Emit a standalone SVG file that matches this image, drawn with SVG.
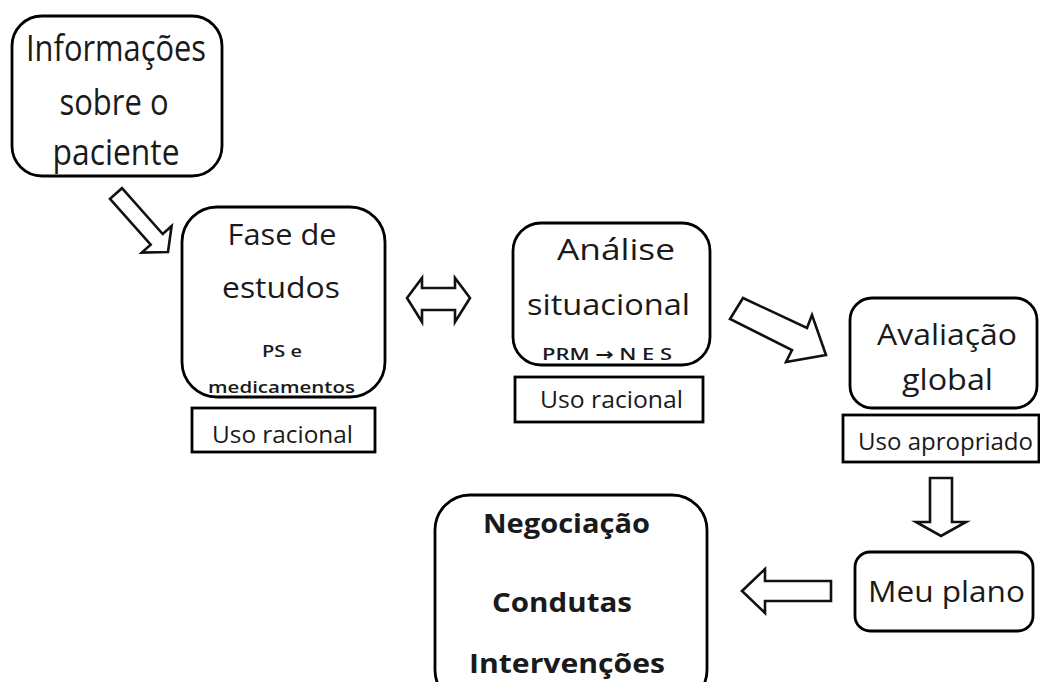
<svg xmlns="http://www.w3.org/2000/svg" width="1040" height="682" viewBox="0 0 1040 682">
<style>
.box{fill:#fff;stroke:#000;stroke-width:2.8}
.arr{fill:#fff;stroke:#111;stroke-width:2.6;stroke-linejoin:miter}
text{font-family:"Open Sans","Noto Sans","DejaVu Sans",sans-serif;fill:#1a1a1a;text-anchor:middle}
.t36{font-size:37px}
.t28{font-size:29px}
.t22{font-size:24px}
.sm{font-size:17px;font-weight:600}
.bd{font-size:27px;font-weight:700}
</style>
<rect width="1040" height="682" fill="#fff"/>
<g id="connectors">
<polygon class="arr" points="122,188.2 162.7,234 171.6,226 168,252 141.8,252.6 150.7,244.6 110,198.8"/>
<polygon class="arr" points="407,298 422,278 422,288 455,288 455,278 470,298 455,322 455,310 422,310 422,322"/>
<polygon class="arr" points="743,298 807,328 812,315 826,355 786,362 792,350 730,319"/>
<polygon class="arr" points="930,478 952,478 952,522 966,522 941,536 916,522 930,522"/>
<polygon class="arr" points="742,591 765,569 765,581 831,581 831,601 765,601 765,613"/>
</g>
<g id="n-informacoes">
<rect class="box" x="12" y="16" width="210" height="160" rx="30"/>
<text class="t36" x="116" y="61" textLength="180" lengthAdjust="spacingAndGlyphs">Informações</text>
<text class="t36" x="114" y="115" textLength="109" lengthAdjust="spacingAndGlyphs">sobre o</text>
<text class="t36" x="116" y="165" textLength="127" lengthAdjust="spacingAndGlyphs">paciente</text>
</g>
<g id="n-fase">
<rect class="box" x="182" y="207" width="203" height="190" rx="35"/>
<text class="t28" x="282" y="245" textLength="109" lengthAdjust="spacingAndGlyphs">Fase de</text>
<text class="t28" x="281" y="298" textLength="118" lengthAdjust="spacingAndGlyphs">estudos</text>
<text class="sm" x="282" y="357" textLength="40" lengthAdjust="spacingAndGlyphs">PS e</text>
<text class="sm" x="281.5" y="393" textLength="147" lengthAdjust="spacingAndGlyphs">medicamentos</text>
</g>
<g id="n-uso1">
<rect class="box" x="192" y="408" width="183" height="44"/>
<text class="t22" x="282.5" y="443" textLength="141" lengthAdjust="spacingAndGlyphs">Uso racional</text>
</g>
<g id="n-analise">
<rect class="box" x="513" y="223" width="197" height="142" rx="28"/>
<text class="t28" x="616" y="260" textLength="118" lengthAdjust="spacingAndGlyphs">Análise</text>
<text class="t28" x="608.5" y="315" textLength="163" lengthAdjust="spacingAndGlyphs">situacional</text>
<text class="sm" x="607" y="360" textLength="130" lengthAdjust="spacingAndGlyphs">PRM → N E S</text>
</g>
<g id="n-uso2">
<rect class="box" x="515" y="377" width="188" height="45"/>
<text class="t22" x="611.5" y="408" textLength="143" lengthAdjust="spacingAndGlyphs">Uso racional</text>
</g>
<g id="n-avaliacao">
<rect class="box" x="850" y="298" width="187" height="110" rx="22"/>
<text class="t28" x="947" y="345" textLength="140" lengthAdjust="spacingAndGlyphs">Avaliação</text>
<text class="t28" x="947.5" y="390" textLength="91" lengthAdjust="spacingAndGlyphs">global</text>
</g>
<g id="n-uso3">
<rect class="box" x="843" y="415" width="196" height="47"/>
<text class="t22" x="945.5" y="450" textLength="175" lengthAdjust="spacingAndGlyphs">Uso apropriado</text>
</g>
<g id="n-plano">
<rect class="box" x="855" y="552" width="178" height="79" rx="15"/>
<text class="t28" x="946.5" y="602" textLength="157" lengthAdjust="spacingAndGlyphs">Meu plano</text>
</g>
<g id="n-negociacao">
<rect class="box" x="435" y="495" width="272" height="210" rx="35"/>
<text class="bd" x="566.5" y="533" textLength="167" lengthAdjust="spacingAndGlyphs">Negociação</text>
<text class="bd" x="562" y="612" textLength="140" lengthAdjust="spacingAndGlyphs">Condutas</text>
<text class="bd" x="567" y="673" textLength="196" lengthAdjust="spacingAndGlyphs">Intervenções</text>
</g>
</svg>
